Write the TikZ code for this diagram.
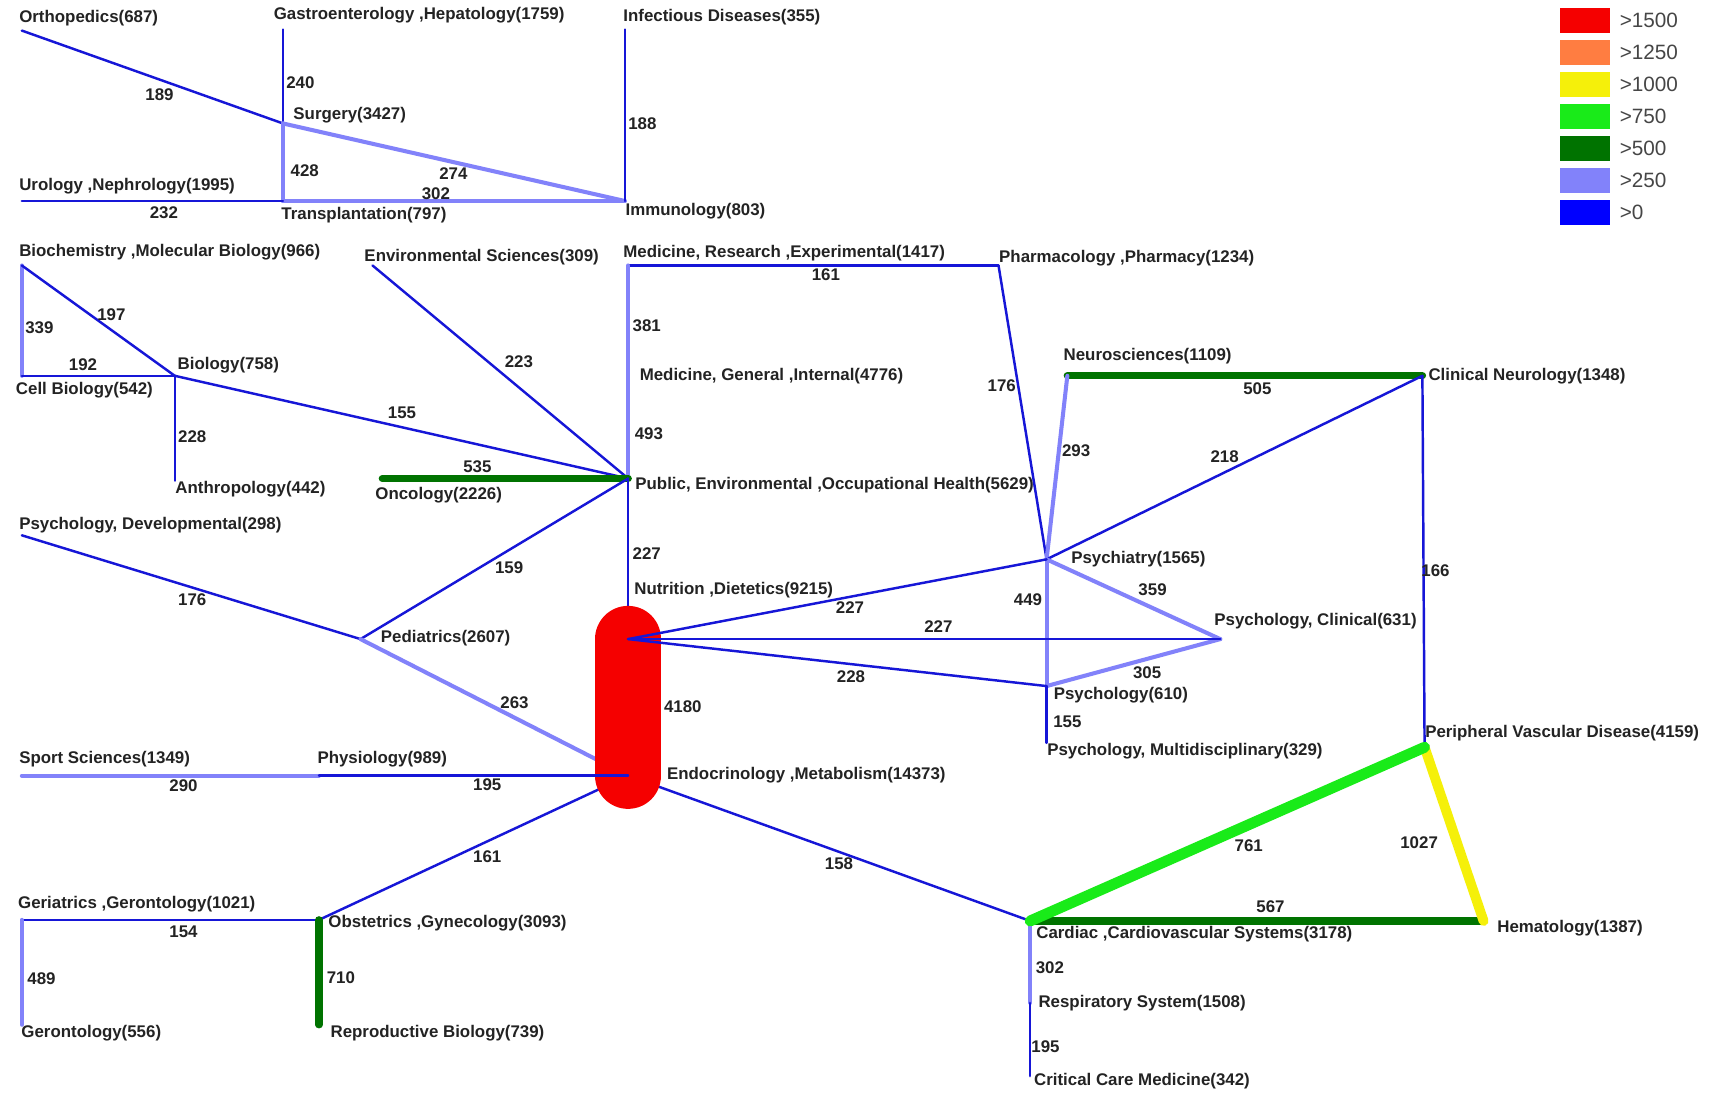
\documentclass[tikz,border=0pt]{standalone}
\usepackage{fontspec}
\setmainfont{Liberation Sans}
\definecolor{bz}{RGB}{22,22,215}
\definecolor{lb}{RGB}{130,130,250}
\definecolor{dg}{RGB}{0,115,0}
\definecolor{lg}{RGB}{25,235,25}
\definecolor{yl}{RGB}{245,240,10}
\definecolor{rd}{RGB}{245,0,0}
\definecolor{og}{RGB}{255,125,65}
\definecolor{txt}{RGB}{35,35,35}
\definecolor{legtxt}{RGB}{70,70,70}
\newcommand{\lblfont}{\fontsize{4.8}{5.5}\selectfont\bfseries}
\newcommand{\legfont}{\fontsize{5.9}{6.5}\selectfont}
\begin{document}
\begin{tikzpicture}[x=0.010925cm,y=-0.010925cm,
  lab/.style={font=\lblfont,anchor=west,inner sep=0pt,text=txt},
  num/.style={font=\lblfont,inner sep=0pt,text=txt},
  ezero/.style={draw=bz,line width=0.7pt,line cap=round},
  equart/.style={draw=lb,line width=1.15pt,line cap=round},
  ehalf/.style={draw=dg,line width=2.1pt,line cap=round},
  ethree/.style={draw=lg,line width=3.1pt,line cap=round},
  ethou/.style={draw=yl,line width=2.8pt,line cap=round},
  ebig/.style={draw=rd,line width=18.9pt,line cap=round},
  legbox/.style={minimum width=0.5026cm,minimum height=0.2513cm,inner sep=0pt,outer sep=0pt,anchor=west},
  legl/.style={font=\legfont,text=legtxt,anchor=west,inner sep=0pt}]
\fill[white] (0,0) rectangle (1568,1000);
\useasboundingbox (0,0) rectangle (1568,1000);
% points
\coordinate (ortho) at (20,28);
\coordinate (gastro) at (259,27);
\coordinate (surgery) at (259,113);
\coordinate (infect) at (572,27);
\coordinate (immuno) at (572,184);
\coordinate (urology) at (20,184);
\coordinate (transp) at (259,184);
\coordinate (biochem) at (20,243);
\coordinate (cellbio) at (20,344);
\coordinate (biology) at (160,344);
\coordinate (anthro) at (160,440);
\coordinate (envsci) at (341,243);
\coordinate (medres) at (575,243);
\coordinate (pharma) at (914,243);
\coordinate (medgen) at (575,344);
\coordinate (pubh) at (575,438);
\coordinate (onco) at (350,438);
\coordinate (nutri) at (575,585);
\coordinate (endo) at (575,710);
\coordinate (pedia) at (330,585);
\coordinate (psydev) at (20,490);
\coordinate (neuro) at (977,344);
\coordinate (clinneuro) at (1302,344);
\coordinate (psychiatry) at (958,512);
\coordinate (psyclin) at (1117,585);
\coordinate (psychology) at (958,628);
\coordinate (psymulti) at (958,680);
\coordinate (pvd) at (1304,684);
\coordinate (hema) at (1358,843);
\coordinate (cardiac) at (943,843);
\coordinate (resp) at (943,918);
\coordinate (critical) at (943,985);
\coordinate (sport) at (20,710);
\coordinate (physio) at (292,710);
\coordinate (obst) at (292,842);
\coordinate (geria) at (20,842);
\coordinate (geronto) at (20,938);
\coordinate (repro) at (292,938);
% edges under the capsule
\draw[ezero] (ortho) -- (surgery);
\draw[ezero] (gastro) -- (surgery);
\draw[equart] (surgery) -- (transp);
\draw[equart] (surgery) -- (immuno);
\draw[equart] (transp) -- (immuno);
\draw[ezero] (urology) -- (transp);
\draw[ezero] (infect) -- (immuno);
\draw[equart] (biochem) -- (cellbio);
\draw[ezero] (biochem) -- (biology);
\draw[ezero] (cellbio) -- (biology);
\draw[ezero] (biology) -- (anthro);
\draw[ezero] (biology) -- (pubh);
\draw[ezero] (envsci) -- (pubh);
\draw[ezero] (medres) -- (pharma);
\draw[equart] (medres) -- (medgen);
\draw[equart] (medgen) -- (pubh);
\draw[ehalf] (onco) -- (pubh);
\draw[ezero] (pubh) -- (nutri);
\draw[ezero] (pubh) -- (pedia);
\draw[ezero] (psydev) -- (pedia);
\draw[equart] (pedia) -- (endo);
\draw[ezero] (pharma) -- (psychiatry);
\draw[ehalf] (neuro) -- (clinneuro);
\draw[equart] (neuro) -- (psychiatry);
\draw[ezero] (psychiatry) -- (clinneuro);
\draw[ezero] (clinneuro) -- (pvd);
\draw[equart] (psychiatry) -- (psyclin);
\draw[equart] (psychiatry) -- (psychology);
\draw[equart] (psyclin) -- (psychology);
\draw[ezero] (psychology) -- (psymulti);
\draw[ezero] (endo) -- (cardiac);
\draw[ezero] (endo) -- (obst);
\draw[equart] (cardiac) -- (resp);
\draw[ezero] (resp) -- (critical);
\draw[equart] (sport) -- (physio);
\draw[ezero] (geria) -- (obst);
\draw[equart] (geria) -- (geronto);
\draw[ehalf] (obst) -- (repro);
\draw[ehalf] (cardiac) -- (hema);
\draw[ethou] (pvd) -- (hema);
\draw[ethree] (pvd) -- (cardiac);
% capsule
\draw[ebig] (nutri) -- (endo);
% edges over the capsule
\draw[ezero] (physio) -- (endo);
\draw[ezero] (nutri) -- (psychiatry);
\draw[ezero] (nutri) -- (psyclin);
\draw[ezero] (nutri) -- (psychology);
% node labels
\node[lab] (l-ortho) at (17,17) {Orthopedics(687)};
\node[lab] (l-gastro) at (250,14) {Gastroenterology ,Hepatology(1759)};
\node[lab] (l-infect) at (570,16) {Infectious Diseases(355)};
\node[lab] (l-surgery) at (268,105) {Surgery(3427)};
\node[lab] (l-urology) at (17,170) {Urology ,Nephrology(1995)};
\node[lab] (l-transp) at (257,197) {Transplantation(797)};
\node[lab] (l-immuno) at (572,193) {Immunology(803)};
\node[lab] (l-biochem) at (17,231) {Biochemistry ,Molecular Biology(966)};
\node[lab] (l-envsci) at (333,235) {Environmental Sciences(309)};
\node[lab] (l-medres) at (570,232) {Medicine, Research ,Experimental(1417)};
\node[lab] (l-pharma) at (914,236) {Pharmacology ,Pharmacy(1234)};
\node[lab] (l-neuro) at (973,326) {Neurosciences(1109)};
\node[lab] (l-clinneuro) at (1307,344) {Clinical Neurology(1348)};
\node[lab] (l-medgen) at (585,344) {Medicine, General ,Internal(4776)};
\node[lab] (l-biology) at (162,334) {Biology(758)};
\node[lab] (l-cellbio) at (14,357) {Cell Biology(542)};
\node[lab] (l-anthro) at (160,448) {Anthropology(442)};
\node[lab] (l-onco) at (343,453) {Oncology(2226)};
\node[lab] (l-pubh) at (581,444) {Public, Environmental ,Occupational Health(5629)};
\node[lab] (l-psydev) at (17,481) {Psychology, Developmental(298)};
\node[lab] (l-psychiatry) at (980,512) {Psychiatry(1565)};
\node[lab] (l-nutri) at (580,540) {Nutrition ,Dietetics(9215)};
\node[lab] (l-psyclin) at (1111,569) {Psychology, Clinical(631)};
\node[lab] (l-pedia) at (348,584) {Pediatrics(2607)};
\node[lab] (l-psychology) at (964,636) {Psychology(610)};
\node[lab] (l-psymulti) at (958,688) {Psychology, Multidisciplinary(329)};
\node[lab] (l-pvd) at (1304,671) {Peripheral Vascular Disease(4159)};
\node[lab] (l-sport) at (17,695) {Sport Sciences(1349)};
\node[lab] (l-physio) at (290,695) {Physiology(989)};
\node[lab] (l-endo) at (610,710) {Endocrinology ,Metabolism(14373)};
\node[lab] (l-geria) at (16,828) {Geriatrics ,Gerontology(1021)};
\node[lab] (l-obst) at (300,845) {Obstetrics ,Gynecology(3093)};
\node[lab] (l-cardiac) at (948,855) {Cardiac ,Cardiovascular Systems(3178)};
\node[lab] (l-hema) at (1370,850) {Hematology(1387)};
\node[lab] (l-resp) at (950,918) {Respiratory System(1508)};
\node[lab] (l-geronto) at (19,946) {Gerontology(556)};
\node[lab] (l-repro) at (302,946) {Reproductive Biology(739)};
\node[lab] (l-critical) at (946,990) {Critical Care Medicine(342)};
% edge labels
\node[num] (n1) at (146,87) {189};
\node[num] (n2) at (275,76) {240};
\node[num] (n3) at (279,156) {428};
\node[num] (n4) at (415,159) {274};
\node[num] (n5) at (399,177) {302};
\node[num] (n6) at (150,195) {232};
\node[num] (n7) at (588,113) {188};
\node[num] (n8) at (36,300) {339};
\node[num] (n9) at (102,288) {197};
\node[num] (n10) at (76,334) {192};
\node[num] (n11) at (176,400) {228};
\node[num] (n12) at (368,378) {155};
\node[num] (n13) at (475,331) {223};
\node[num] (n14) at (756,251) {161};
\node[num] (n15) at (592,298) {381};
\node[num] (n16) at (594,397) {493};
\node[num] (n17) at (437,427) {535};
\node[num] (n18) at (592,507) {227};
\node[num] (n19) at (466,520) {159};
\node[num] (n20) at (176,549) {176};
\node[num] (n21) at (471,643) {263};
\node[num] (n22) at (917,353) {176};
\node[num] (n23) at (1151,356) {505};
\node[num] (n24) at (985,413) {293};
\node[num] (n25) at (1121,418) {218};
\node[num] (n26) at (1314,522) {166};
\node[num] (n27) at (778,556) {227};
\node[num] (n28) at (859,574) {227};
\node[num] (n29) at (779,619) {228};
\node[num] (n30) at (1055,540) {359};
\node[num] (n31) at (941,549) {449};
\node[num] (n32) at (1050,616) {305};
\node[num] (n33) at (977,661) {155};
\node[num] (n34) at (625,647) {4180};
\node[num] (n35) at (1143,774) {761};
\node[num] (n36) at (1299,771) {1027};
\node[num] (n37) at (1163,830) {567};
\node[num] (n38) at (768,791) {158};
\node[num] (n39) at (961,886) {302};
\node[num] (n40) at (957,958) {195};
\node[num] (n41) at (168,719) {290};
\node[num] (n42) at (446,718) {195};
\node[num] (n43) at (446,784) {161};
\node[num] (n44) at (168,853) {154};
\node[num] (n45) at (38,896) {489};
\node[num] (n46) at (312,895) {710};
% legend
\node[legbox,fill=rd] (k1) at (1428,18.8) {};
\node[legbox,fill=og] (k2) at (1428,48.1) {};
\node[legbox,fill=yl] (k3) at (1428,77.4) {};
\node[legbox,fill=lg] (k4) at (1428,106.7) {};
\node[legbox,fill=dg] (k5) at (1428,136) {};
\node[legbox,fill=lb] (k6) at (1428,165.3) {};
\node[legbox,fill=blue] (k7) at (1428,194.6) {};
\node[legl] (t1) at (1482,18.8) {>1500};
\node[legl] (t2) at (1482,48.1) {>1250};
\node[legl] (t3) at (1482,77.4) {>1000};
\node[legl] (t4) at (1482,106.7) {>750};
\node[legl] (t5) at (1482,136) {>500};
\node[legl] (t6) at (1482,165.3) {>250};
\node[legl] (t7) at (1482,194.6) {>0};
\end{tikzpicture}
\end{document}
